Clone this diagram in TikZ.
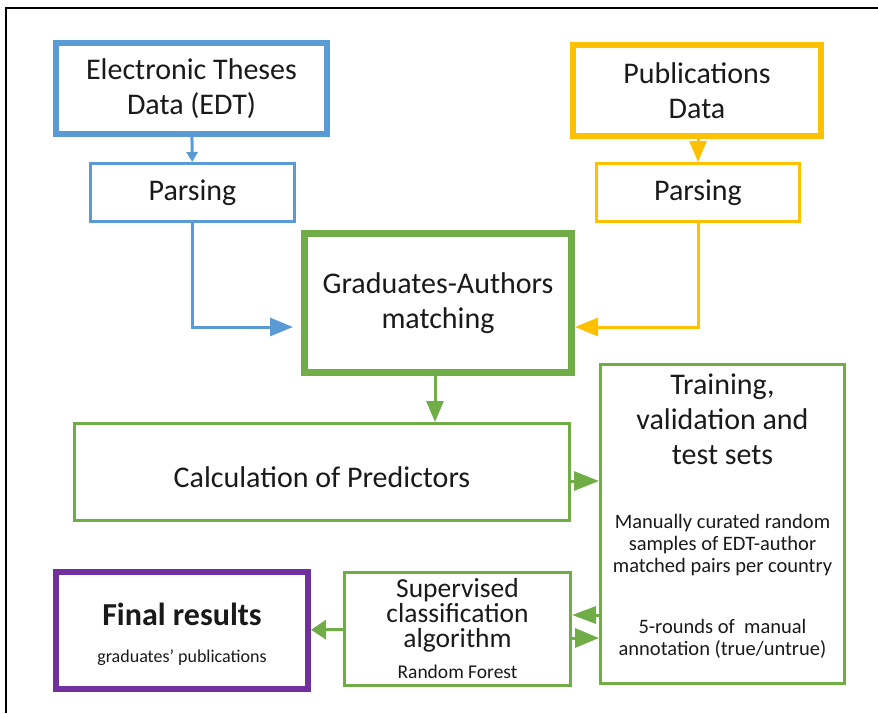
\documentclass[tikz,border=0pt]{standalone}
\usepackage{fontspec}
\setmainfont{Carlito}
\usetikzlibrary{arrows.meta, positioning, calc}
\definecolor{bThesis}{RGB}{91, 155, 213}
\definecolor{bPub}{RGB}{255, 192, 0}
\definecolor{bMatch}{RGB}{112, 173, 71}
\definecolor{bFinal}{RGB}{112, 48, 160}
\definecolor{tDark}{RGB}{26, 26, 26}

\begin{document}
\begin{tikzpicture}[
    x=1pt, y=-1pt,
    font=\fontsize{30}{35}\selectfont,
    text=tDark,
    block/.style={
        draw=#1,
        line width=3pt,
        align=center,
        inner sep=0pt,
        fill=white
    },
    heavy/.style={block=#1, line width=6pt},
    note/.style={font=\fontsize{20.5}{22}\selectfont, align=center, inner sep=0pt},
    arrow/.style={line width=3pt, draw=#1, -{Triangle[length=23pt, width=18pt]}}
]

\useasboundingbox (0,0) rectangle (878,713);
% frame of the scanned page
\draw[line width=2pt, black] (6,713) -- (6,8) -- (878,8);

% sources
\node[heavy=bThesis, minimum width=271pt, minimum height=91pt] (edt) at (191.5,88.5) {Electronic Theses\\Data (EDT)};
\node[block=bThesis, minimum width=204pt, minimum height=58pt] (parsL) at (192.5,192.5) {Parsing};

\node[heavy=bPub, minimum width=248pt, minimum height=91pt] (pub) at (697,90.5) {Publications\\Data};
\node[block=bPub, minimum width=203pt, minimum height=58pt] (parsR) at (698,192.5) {Parsing};

\node[block=bMatch, line width=7pt, minimum width=267pt, minimum height=139pt] (match) at (438,303) {Graduates-Authors\\matching};

\node[block=bMatch, minimum width=495pt, minimum height=97pt] (calc) at (322,472) {\raisebox{-5pt}[\height][\depth]{Calculation of Predictors}};

% training / validation box
\node[block=bMatch, minimum width=244pt, minimum height=319pt] (train) at (722.5,524) {};
\node[align=center, inner sep=0pt, below=11pt of train.north] (trainHead) {Training,\\validation and\\test sets};
\node[note, below=49pt of trainHead] (trainSamples) {Manually curated random\\samples of EDT-author\\matched pairs per country};
\node[note, below=43pt of trainSamples] (trainRounds) {5-rounds of\ \ manual\\annotation (true/untrue)};

\node[block=bMatch, minimum width=226pt, minimum height=113pt, font=\fontsize{27.5}{25}\selectfont] (sup) at (457.5,629) {Supervised\\classification\\algorithm\\[6pt]\fontsize{19.5}{22}\selectfont Random Forest};

\node[heavy=bFinal, minimum width=252pt, minimum height=117pt, font=\fontsize{32}{37}\selectfont] (final) at (182,630.5) {\raisebox{-4pt}[\height][\depth]{\textbf{Final results}}\\\fontsize{18}{20}\selectfont\raisebox{-4pt}[\height][\depth]{graduates’ publications}};

\draw[arrow=bThesis, -{Triangle[length=10pt, width=11pt]}] (edt) -- (parsL);
\draw[arrow=bPub, -{Triangle[length=21pt, width=17pt]}] (pub.south -| parsR) -- (parsR);
\draw[arrow=bThesis, shorten >=8pt] (parsL.south) |- ([yshift=-24pt]match.west);
\draw[arrow=bPub] (parsR.south) |- ([yshift=-24pt]match.east);
\draw[arrow=bMatch, -{Triangle[length=21pt, width=17pt]}] (match.south -| 435,0) -- (calc.north -| 435,0);
\draw[arrow=bMatch, -{Triangle[length=25pt, width=19pt]}] ([yshift=-9pt]calc.east) -- ([yshift=-9pt]calc.east -| train.west);
\draw[arrow=bMatch, -{Triangle[length=24pt, width=17pt]}] ([yshift=14pt]sup.east -| train.west) -- ([yshift=14pt]sup.east);
\draw[arrow=bMatch, -{Triangle[length=24pt, width=19pt]}] ([yshift=-9pt]sup.east) -- ([yshift=-9pt]sup.east -| train.west);
\draw[arrow=bMatch, -{Triangle[length=15pt, width=19pt]}] (sup) -- (final);

\end{tikzpicture}
\end{document}
